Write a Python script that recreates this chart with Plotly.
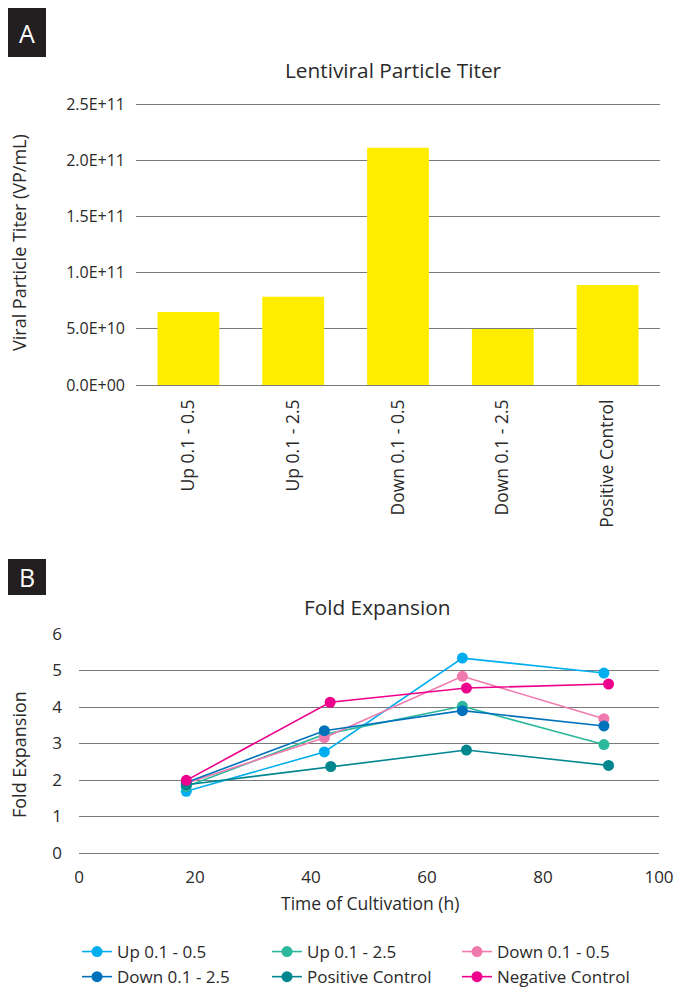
import plotly.graph_objects as go

W, H = 676, 987

# ---- Data ----
bar_categories = ["Up 0.1 - 0.5", "Up 0.1 - 2.5", "Down 0.1 - 0.5", "Down 0.1 - 2.5", "Positive Control"]
bar_values = [6.5e10, 7.85e10, 2.11e11, 4.98e10, 8.9e10]
bar_tickvals = [0, 5e10, 1e11, 1.5e11, 2e11, 2.5e11]
bar_ticktext = ["0.0E+00", "5.0E+10", "1.0E+11", "1.5E+11", "2.0E+11", "2.5E+11"]

series_names = ["Up 0.1 - 0.5", "Up 0.1 - 2.5", "Down 0.1 - 0.5", "Down 0.1 - 2.5",
                "Positive Control", "Negative Control"]
up_05_x = [18.5, 42.3, 66.1, 90.5]
up_05_y = [1.69, 2.77, 5.34, 4.93]
up_25_x = [18.5, 42.3, 66.1, 90.5]
up_25_y = [1.82, 3.25, 4.02, 2.97]
down_05_x = [18.5, 42.3, 66.1, 90.5]
down_05_y = [1.91, 3.16, 4.84, 3.68]
down_25_x = [18.5, 42.3, 66.1, 90.5]
down_25_y = [1.93, 3.35, 3.90, 3.48]
pos_x = [18.5, 43.4, 66.8, 91.3]
pos_y = [1.87, 2.37, 2.82, 2.40]
neg_x = [18.5, 43.3, 66.8, 91.3]
neg_y = [1.99, 4.13, 4.52, 4.63]

series_x = [up_05_x, up_25_x, down_05_x, down_25_x, pos_x, neg_x]
series_y = [up_05_y, up_25_y, down_05_y, down_25_y, pos_y, neg_y]
series_colors = ["#00AEEF", "#2BB89C", "#F07AAE", "#0072BC", "#00868F", "#EC008C"]
legend_ids = ["legend", "legend2", "legend3", "legend", "legend2", "legend3"]

FONT = "Open Sans"
TXT = "#2a2a2a"
GRID = "#7a7a7a"

fig = go.Figure()

fig.add_trace(go.Bar(x=bar_categories, y=bar_values, marker_color="#FFED00",
                     showlegend=False, xaxis="x", yaxis="y"))

for name, xs, ys, c, lg in zip(series_names, series_x, series_y, series_colors, legend_ids):
    fig.add_trace(go.Scatter(x=xs, y=ys, name=name, mode="lines+markers",
                             line=dict(color=c, width=1.6),
                             marker=dict(color=c, size=11),
                             xaxis="x2", yaxis="y2", legend=lg))

def px_x(p):
    return p / W

def px_y(p):
    return 1 - p / H

def legend_at(xpx):
    return dict(orientation="v", x=px_x(xpx), xanchor="left", y=px_y(934), yanchor="top",
                font=dict(size=17), itemwidth=30, bgcolor="rgba(0,0,0,0)",
                borderwidth=0, tracegroupgap=0)

# small padding so the end grid lines are drawn
padA = 2 * 2.5e11 / 281
padB = 6 / 219

fig.update_layout(
    template="none",
    width=W, height=H,
    margin=dict(l=0, r=0, t=0, b=0, autoexpand=False),
    paper_bgcolor="white", plot_bgcolor="white",
    font=dict(family=FONT, size=16, color=TXT),
    bargap=0.41,
    xaxis=dict(domain=[px_x(136), px_x(660)], anchor="y", tickangle=-90,
               showgrid=False, showline=False, ticks="", tickfont=dict(size=17.5),
               ticklabelstandoff=8, automargin=False),
    yaxis=dict(domain=[px_y(387), px_y(102)], anchor="x", range=[-padA, 2.5e11 + padA],
               tickvals=bar_tickvals, ticktext=bar_ticktext,
               showgrid=True, gridcolor=GRID, gridwidth=1.3, showline=False,
               zeroline=False, ticks="", tickfont=dict(size=16),
               ticklabelstandoff=10, automargin=False),
    xaxis2=dict(domain=[px_x(79), px_x(659)], anchor="y2", range=[0, 100],
                tickvals=[0, 20, 40, 60, 80, 100], showgrid=False, zeroline=False,
                showline=False, ticks="", tickfont=dict(size=17),
                ticklabelstandoff=11, automargin=False),
    yaxis2=dict(domain=[px_y(854), px_y(633)], anchor="x2", range=[-padB, 6 + padB],
                tickvals=[0, 1, 2, 3, 4, 5, 6], showgrid=True, gridcolor=GRID,
                gridwidth=1.3, zeroline=False, showline=False, ticks="",
                tickfont=dict(size=17), ticklabelstandoff=16, automargin=False),
    legend=legend_at(77),
    legend2=legend_at(267),
    legend3=legend_at(457),
    shapes=[
        dict(type="rect", xref="paper", yref="paper", x0=px_x(8), x1=px_x(46),
             y0=px_y(57), y1=px_y(8), fillcolor="#231F20", line=dict(width=0)),
        dict(type="rect", xref="paper", yref="paper", x0=px_x(8), x1=px_x(46),
             y0=px_y(595), y1=px_y(559), fillcolor="#231F20", line=dict(width=0)),
    ],
    annotations=[
        dict(text="A", x=px_x(27), y=px_y(33), xref="paper", yref="paper",
             showarrow=False, font=dict(size=25, color="white"),
             xanchor="center", yanchor="middle"),
        dict(text="B", x=px_x(27), y=px_y(577), xref="paper", yref="paper",
             showarrow=False, font=dict(size=25, color="white"),
             xanchor="center", yanchor="middle"),
        dict(text="Lentiviral Particle Titer", x=px_x(393), y=px_y(70), xref="paper",
             yref="paper", showarrow=False, font=dict(size=20.8),
             xanchor="center", yanchor="middle"),
        dict(text="Fold Expansion", x=px_x(377), y=px_y(607), xref="paper",
             yref="paper", showarrow=False, font=dict(size=20.8),
             xanchor="center", yanchor="middle"),
        dict(text="Viral Particle Titer (VP/mL)", x=px_x(19), y=px_y(243),
             xref="paper", yref="paper", showarrow=False, textangle=-90,
             font=dict(size=18), xanchor="center", yanchor="middle"),
        dict(text="Fold Expansion", x=px_x(19), y=px_y(755),
             xref="paper", yref="paper", showarrow=False, textangle=-90,
             font=dict(size=18), xanchor="center", yanchor="middle"),
        dict(text="Time of Cultivation (h)", x=px_x(370), y=px_y(903),
             xref="paper", yref="paper", showarrow=False,
             font=dict(size=17.5), xanchor="center", yanchor="middle"),
    ],
)

fig.write_html("out.html", config={"displayModeBar": False},
               post_script="document.body.style.margin='0';")
